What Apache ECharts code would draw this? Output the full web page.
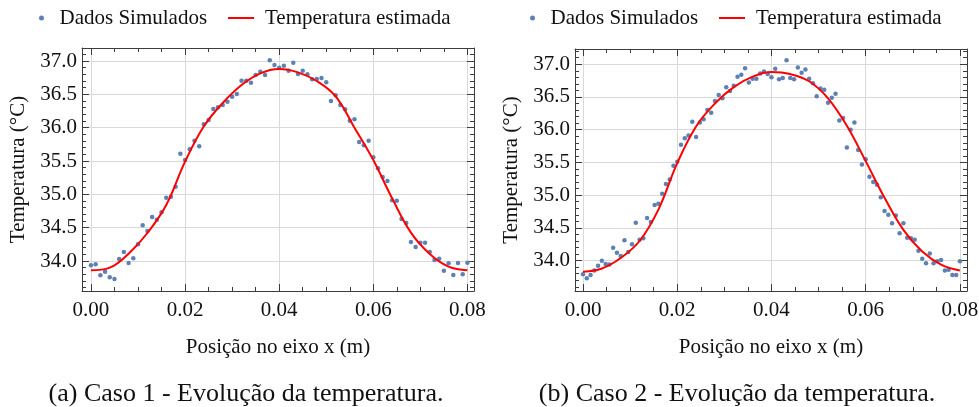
<!DOCTYPE html>
<html><head><meta charset="utf-8">
<script src="https://cdn.jsdelivr.net/npm/echarts@6/dist/echarts.min.js"></script>
<style>html,body{margin:0;padding:0;background:#fff}#c{width:979px;height:407px}</style>
</head><body><div id="c"></div>
<script>
// ---------------- data ----------------
const seriesNames = ['Dados Simulados', 'Temperatura estimada'];
const captions = ['(a) Caso 1 - Evolução da temperatura.', '(b) Caso 2 - Evolução da temperatura.'];
const xAxisTitle = 'Posição no eixo x (m)';
const yAxisTitle = 'Temperatura (°C)';
const xTickLabels = [0.00, 0.02, 0.04, 0.06, 0.08];
const yTickLabels = [34.0, 34.5, 35.0, 35.5, 36.0, 36.5, 37.0];

// Case 1: simulated points every 0.001 m
const case1Step = 0.001;
const case1Data = [
  33.935, 33.95, 33.785, 33.84, 33.755, 33.73, 34.03, 34.135, 33.97, 34.04,
  34.25, 34.535, 34.45, 34.66, 34.62, 34.73, 34.95, 34.965, 35.115, 35.61,
  35.515, 35.675, 35.805, 35.72, 36.05, 36.115, 36.28, 36.305, 36.34, 36.39,
  36.465, 36.505, 36.705, 36.705, 36.675, 36.79, 36.84, 36.79, 37.01, 36.94,
  36.90, 36.93, 36.855, 36.975, 36.805, 36.855, 36.80, 36.725, 36.73, 36.745,
  36.68, 36.40, 36.485, 36.34, 36.275, 36.105, 36.125, 35.785, 35.735, 35.805,
  35.555, 35.39, 35.26, 35.20, 34.91, 34.905, 34.63, 34.57, 34.285, 34.21,
  34.275, 34.275, 34.135, 34.015, 34.035, 33.855, 33.965, 33.79, 33.97, 33.80,
  33.975
];
const case1FitX = [0, 0.004, 0.008, 0.012, 0.016, 0.020, 0.024, 0.028, 0.032, 0.036, 0.040,
                   0.044, 0.048, 0.052, 0.056, 0.060, 0.064, 0.068, 0.072, 0.076, 0.080];
const case1Fit = [33.86, 33.90, 34.11, 34.42, 34.84, 35.49, 36.02, 36.37, 36.64, 36.815, 36.88,
                  36.83, 36.70, 36.47, 36.00, 35.515, 34.94, 34.425, 34.105, 33.915, 33.86];

// Case 2: simulated points every 0.0008 m
const case2Step = 0.0008;
const case2Data = [
  33.79, 33.73, 33.78, 33.85, 33.92, 34.00, 33.95, 33.94, 34.195, 34.12,
  34.07, 34.31, 34.13, 34.25, 34.58, 34.32, 34.34, 34.65, 34.59, 34.85,
  34.87, 35.02, 35.17, 35.24, 35.45, 35.51, 35.77, 35.87, 35.91, 36.12,
  35.89, 36.11, 36.16, 36.30, 36.26, 36.44, 36.53, 36.48, 36.65, 36.59,
  36.67, 36.81, 36.84, 36.94, 36.72, 36.78, 36.78, 36.86, 36.89, 36.85,
  36.80, 36.93, 36.77, 36.79, 37.06, 36.79, 36.77, 36.95, 36.87, 36.92,
  36.78, 36.71, 36.51, 36.63, 36.61, 36.41, 36.49, 36.55, 36.14, 36.18,
  35.73, 36.00, 36.11, 35.69, 35.47, 35.55, 35.28, 35.20, 35.16, 34.97,
  34.76, 34.70, 34.57, 34.69, 34.42, 34.57, 34.35, 34.34, 34.32, 34.15,
  34.03, 33.96, 34.11, 33.96, 33.99, 34.01, 33.85, 33.86, 33.78, 33.78,
  33.99
];
const case2FitX = [0, 0.004, 0.008, 0.012, 0.016, 0.020, 0.024, 0.028, 0.032, 0.036, 0.040,
                   0.044, 0.048, 0.052, 0.056, 0.060, 0.064, 0.068, 0.072, 0.076, 0.080];
const case2Fit = [33.83, 33.88, 34.04, 34.30, 34.78, 35.49, 36.05, 36.40, 36.65, 36.81, 36.88,
                  36.85, 36.74, 36.48, 36.06, 35.52, 34.96, 34.47, 34.14, 33.94, 33.85];

// ---------------- styling ----------------
const FONT = '"Liberation Serif", "Times New Roman", Times, serif';
const FRAME = '#3c3c3c';
const GRIDC = '#d9d9d9';
const TXT = '#111';
const DOT = '#5e81b5';
const RED = '#ff0000';

function lab(v, ticks, d) {
  return ticks.some(t => Math.abs(t - v) < 1e-6) ? v.toFixed(d) : '';
}

function xAxes(g, min, max) {
  const base = { type: 'value', gridIndex: g, min: min, max: max };
  const common = (pos, major) => Object.assign({}, base, {
    position: pos,
    splitNumber: major ? 4 : 16,
    minInterval: major ? 0.02 : 0.005,
    maxInterval: major ? 0.02 : 0.005,
    axisLine: { show: major, onZero: false, lineStyle: { color: FRAME, width: 1 } },
    axisTick: { show: true, inside: true, length: major ? 7 : 4, lineStyle: { color: FRAME, width: 1 } },
    axisLabel: { show: false },
    splitLine: { show: false },
    minorTick: { show: false }
  });
  const bottom = common('bottom', true);
  bottom.axisLabel = { show: true, margin: 9, fontFamily: FONT, fontSize: 21, color: TXT,
    formatter: v => lab(v, xTickLabels, 2), hideOverlap: false };
  bottom.splitLine = { show: true, lineStyle: { color: GRIDC, width: 1 } };
  bottom.name = xAxisTitle;
  bottom.nameLocation = 'middle';
  bottom.nameGap = 46;
  bottom.nameTextStyle = { fontFamily: FONT, fontSize: 21, color: TXT };
  return [bottom, common('bottom', false), common('top', true), common('top', false)];
}

function yAxes(g, min, max) {
  const base = { type: 'value', gridIndex: g, min: min, max: max };
  const common = (pos, major) => Object.assign({}, base, {
    position: pos,
    splitNumber: major ? 7 : 36,
    minInterval: major ? 0.5 : 0.1,
    maxInterval: major ? 0.5 : 0.1,
    axisLine: { show: major, onZero: false, lineStyle: { color: FRAME, width: 1 } },
    axisTick: { show: true, inside: true, length: major ? 7 : 4, lineStyle: { color: FRAME, width: 1 } },
    axisLabel: { show: false },
    splitLine: { show: false },
    minorTick: { show: false }
  });
  const left = common('left', true);
  left.axisLabel = { show: true, margin: 5, fontFamily: FONT, fontSize: 21, color: TXT,
    formatter: v => lab(v, yTickLabels, 1), hideOverlap: false };
  left.splitLine = { show: true, lineStyle: { color: GRIDC, width: 1 } };
  left.name = yAxisTitle;
  left.nameLocation = 'middle';
  left.nameGap = 53;
  left.nameRotate = 90;
  left.nameTextStyle = { fontFamily: FONT, fontSize: 21, color: TXT };
  return [left, common('left', false), common('right', true), common('right', false)];
}

const legendText = { fontFamily: FONT, fontSize: 21, color: TXT, lineHeight: 22 };

const option = {
  animation: false,
  backgroundColor: '#fff',
  textStyle: { fontFamily: FONT },
  title: [
    { text: captions[0], left: 246, top: 381, padding: 0, textAlign: 'center',
      textStyle: { fontFamily: FONT, fontSize: 26, fontWeight: 'normal', color: TXT } },
    { text: captions[1], left: 737, top: 381, padding: 0, textAlign: 'center',
      textStyle: { fontFamily: FONT, fontSize: 26, fontWeight: 'normal', color: TXT } }
  ],
  legend: [
    { left: 39, top: 7, padding: 0, itemWidth: 26, itemHeight: 5, selectedMode: false,
      data: [{ name: seriesNames[0], icon: 'circle' }], textStyle: legendText },
    { left: 228, top: 7, padding: 0, itemWidth: 26, itemHeight: 2, selectedMode: false,
      data: [{ name: seriesNames[1], icon: 'rect' }], textStyle: Object.assign({}, legendText, { padding: [0, 0, 0, 6] }) },
    { left: 530, top: 7, padding: 0, itemWidth: 26, itemHeight: 5, selectedMode: false,
      data: [{ name: seriesNames[0], icon: 'circle' }], textStyle: legendText },
    { left: 719, top: 7, padding: 0, itemWidth: 26, itemHeight: 2, selectedMode: false,
      data: [{ name: seriesNames[1], icon: 'rect' }], textStyle: Object.assign({}, legendText, { padding: [0, 0, 0, 6] }) }
  ],
  grid: [
    { left: 82, top: 48, width: 392, height: 243, containLabel: false, outerBoundsMode: 'none' },
    { left: 575, top: 49, width: 392, height: 242, containLabel: false, outerBoundsMode: 'none' }
  ],
  xAxis: [].concat(xAxes(0, -0.0019, 0.0814), xAxes(1, -0.0017, 0.0815)),
  yAxis: [].concat(yAxes(0, 33.55, 37.195), yAxes(1, 33.536, 37.233)),
  series: [
    { type: 'scatter', name: seriesNames[0], xAxisIndex: 0, yAxisIndex: 0, z: 2,
      data: case1Data.map((v, i) => [i * case1Step, v]),
      symbolSize: 4.5, itemStyle: { color: DOT, opacity: 1 } },
    { type: 'line', name: seriesNames[1], xAxisIndex: 0, yAxisIndex: 0, z: 3,
      data: case1FitX.map((x, i) => [x, case1Fit[i]]),
      smooth: 0.4, symbol: 'none', showSymbol: false,
      lineStyle: { color: RED, width: 2 }, itemStyle: { color: RED } },
    { type: 'scatter', name: seriesNames[0], xAxisIndex: 4, yAxisIndex: 4, z: 2,
      data: case2Data.map((v, i) => [i * case2Step, v]),
      symbolSize: 4.5, itemStyle: { color: DOT, opacity: 1 } },
    { type: 'line', name: seriesNames[1], xAxisIndex: 4, yAxisIndex: 4, z: 3,
      data: case2FitX.map((x, i) => [x, case2Fit[i]]),
      smooth: 0.4, symbol: 'none', showSymbol: false,
      lineStyle: { color: RED, width: 2 }, itemStyle: { color: RED } }
  ]
};

const chart = echarts.init(document.getElementById('c'), null, { renderer: 'canvas' });
chart.setOption(option);
</script>
</body></html>
